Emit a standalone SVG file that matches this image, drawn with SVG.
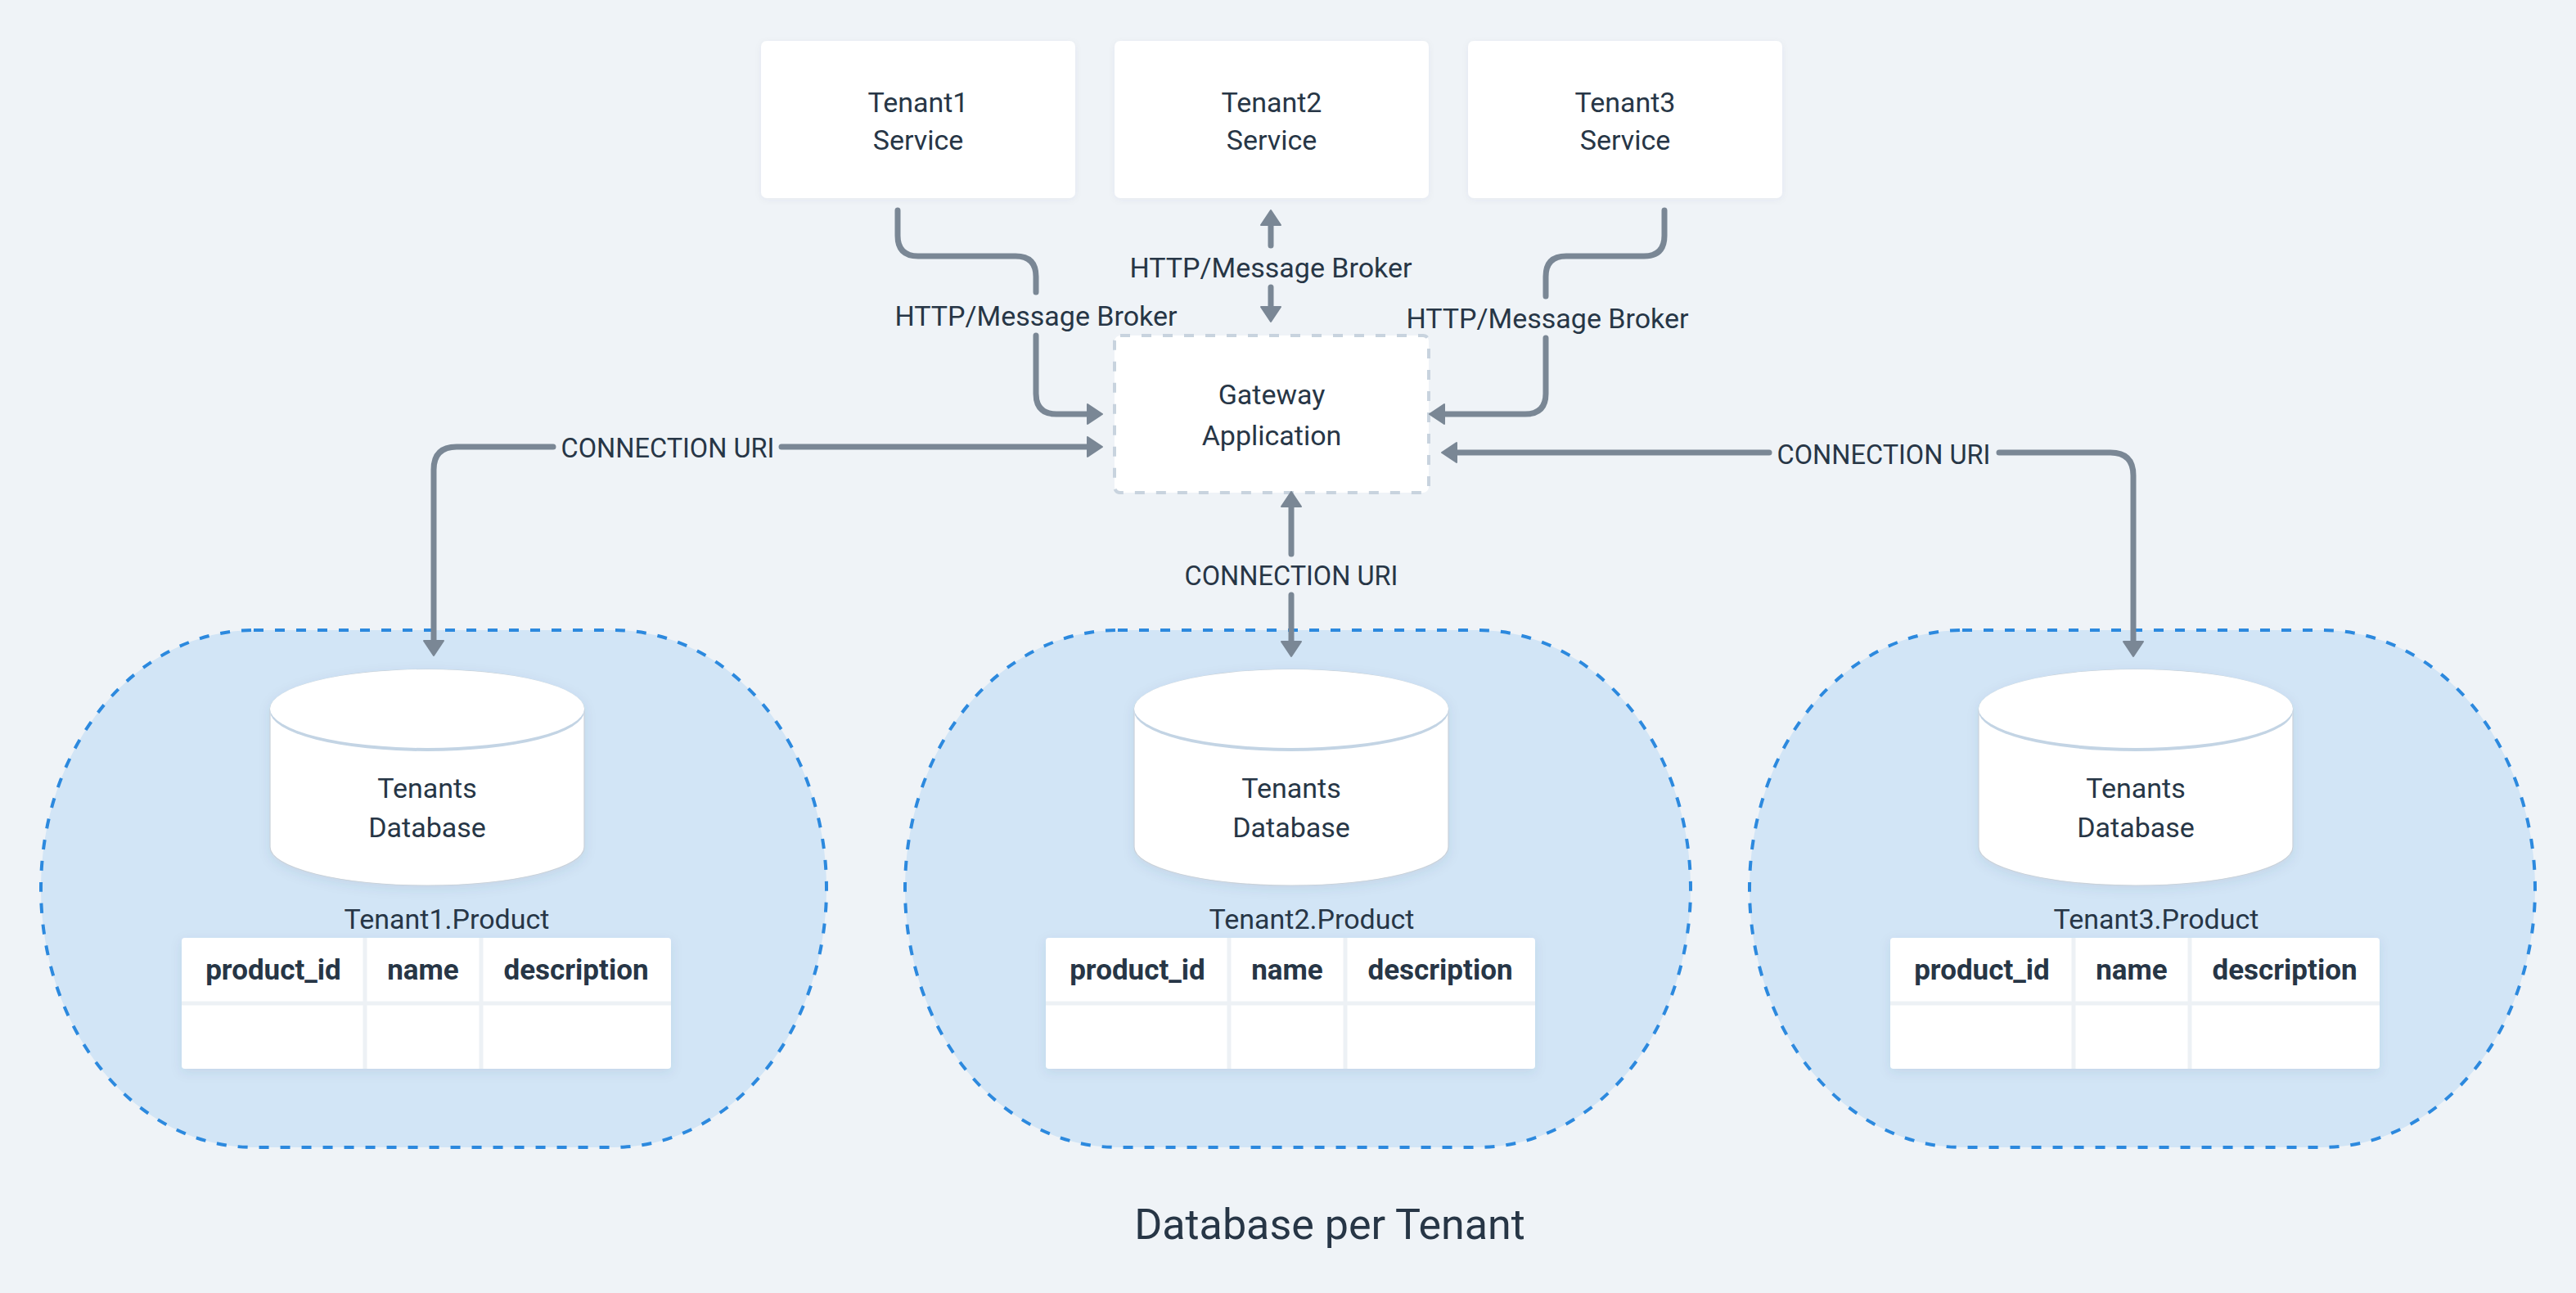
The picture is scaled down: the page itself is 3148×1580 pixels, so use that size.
<svg xmlns="http://www.w3.org/2000/svg" width="3148" height="1580" viewBox="0 0 3148 1580">
<style>
  .t { font-family: Roboto, "Liberation Sans", sans-serif; fill: #273646; font-size: 34px; text-anchor: middle; }
  .cu { font-size: 32.5px; }
  .th { font-family: Roboto, "Liberation Sans", sans-serif; fill: #273646; font-size: 35px; font-weight: 700; text-anchor: middle; }
  .title { font-family: Roboto, "Liberation Sans", sans-serif; fill: #273646; font-size: 52px; text-anchor: middle; }
  .box { fill: #ffffff; }
  .gw { fill: #ffffff; stroke: #c8d3de; stroke-width: 4; stroke-dasharray: 12 14; }
  .blob { fill: #d2e5f6; stroke: #2c89de; stroke-width: 4; stroke-dasharray: 12 14; }
  .conn { fill: none; stroke: #7a8795; stroke-width: 7; stroke-linecap: round; stroke-linejoin: round; }
  .sep { stroke: #edf1f5; stroke-width: 5; }
  .cylbody { fill: #ffffff; stroke: #c9d1d9; stroke-width: 1.2; }
</style>
<defs>
  <filter id="sh" x="-20%" y="-20%" width="140%" height="150%">
    <feDropShadow dx="0" dy="4" stdDeviation="7" flood-color="#3a5570" flood-opacity="0.10"/>
  </filter>
  <filter id="shl" x="-10%" y="-10%" width="120%" height="130%">
    <feDropShadow dx="0" dy="2" stdDeviation="4" flood-color="#3a5570" flood-opacity="0.05"/>
  </filter>
  <marker id="ah" viewBox="-2 -15 23 30" refX="8" refY="0" markerWidth="23" markerHeight="30" markerUnits="userSpaceOnUse" orient="auto">
    <path d="M0,-12 L18,0 L0,12 Z" fill="#7a8795" stroke="#7a8795" stroke-width="2" stroke-linejoin="round"/>
  </marker>
</defs>

<rect x="0" y="0" width="3148" height="1580" fill="#eff3f7"/>

<g id="tenant1-service">
  <rect class="box" x="930" y="50" width="384" height="192" rx="7" filter="url(#shl)"/>
  <text class="t" x="1122" y="137">Tenant1</text>
  <text class="t" x="1122" y="183">Service</text>
</g>
<g id="tenant2-service">
  <rect class="box" x="1362" y="50" width="384" height="192" rx="7" filter="url(#shl)"/>
  <text class="t" x="1554" y="137">Tenant2</text>
  <text class="t" x="1554" y="183">Service</text>
</g>
<g id="tenant3-service">
  <rect class="box" x="1794" y="50" width="384" height="192" rx="7" filter="url(#shl)"/>
  <text class="t" x="1986" y="137">Tenant3</text>
  <text class="t" x="1986" y="183">Service</text>
</g>

<g id="gateway">
  <rect class="gw" x="1362" y="410" width="384" height="192" rx="7"/>
  <text class="t" x="1554" y="494">Gateway</text>
  <text class="t" x="1554" y="544">Application</text>
</g>

<g id="db1">
  <rect class="blob" x="50" y="770" width="960" height="632" rx="260" ry="316"/>
  <g filter="url(#sh)">
    <path class="cylbody" d="M330,867 A192,49 0 0 1 714,867 V1035 A192,47 0 0 1 330,1035 Z"/>
  </g>
  <ellipse cx="522" cy="869" rx="192" ry="49" fill="#c3d4e4"/>
  <ellipse cx="522" cy="866" rx="192" ry="48" fill="#ffffff"/>
  <text class="t" x="522" y="975">Tenants</text>
  <text class="t" x="522" y="1023">Database</text>
  <text class="t" x="546" y="1135">Tenant1.Product</text>
  <rect class="box" x="222" y="1146" width="598" height="160" rx="4" filter="url(#sh)"/>
  <line class="sep" x1="222" y1="1226" x2="820" y2="1226"/>
  <line class="sep" x1="446" y1="1146" x2="446" y2="1306"/>
  <line class="sep" x1="588" y1="1146" x2="588" y2="1306"/>
  <text class="th" x="334" y="1197">product_id</text>
  <text class="th" x="517" y="1197">name</text>
  <text class="th" x="704" y="1197">description</text>
</g>

<g id="db2" transform="translate(1056,0)">
  <rect class="blob" x="50" y="770" width="960" height="632" rx="260" ry="316"/>
  <g filter="url(#sh)">
    <path class="cylbody" d="M330,867 A192,49 0 0 1 714,867 V1035 A192,47 0 0 1 330,1035 Z"/>
  </g>
  <ellipse cx="522" cy="869" rx="192" ry="49" fill="#c3d4e4"/>
  <ellipse cx="522" cy="866" rx="192" ry="48" fill="#ffffff"/>
  <text class="t" x="522" y="975">Tenants</text>
  <text class="t" x="522" y="1023">Database</text>
  <text class="t" x="547" y="1135">Tenant2.Product</text>
  <rect class="box" x="222" y="1146" width="598" height="160" rx="4" filter="url(#sh)"/>
  <line class="sep" x1="222" y1="1226" x2="820" y2="1226"/>
  <line class="sep" x1="446" y1="1146" x2="446" y2="1306"/>
  <line class="sep" x1="588" y1="1146" x2="588" y2="1306"/>
  <text class="th" x="334" y="1197">product_id</text>
  <text class="th" x="517" y="1197">name</text>
  <text class="th" x="704" y="1197">description</text>
</g>

<g id="db3" transform="translate(2088,0)">
  <rect class="blob" x="50" y="770" width="960" height="632" rx="260" ry="316"/>
  <g filter="url(#sh)">
    <path class="cylbody" d="M330,867 A192,49 0 0 1 714,867 V1035 A192,47 0 0 1 330,1035 Z"/>
  </g>
  <ellipse cx="522" cy="869" rx="192" ry="49" fill="#c3d4e4"/>
  <ellipse cx="522" cy="866" rx="192" ry="48" fill="#ffffff"/>
  <text class="t" x="522" y="975">Tenants</text>
  <text class="t" x="522" y="1023">Database</text>
  <text class="t" x="547" y="1135">Tenant3.Product</text>
  <rect class="box" x="222" y="1146" width="598" height="160" rx="4" filter="url(#sh)"/>
  <line class="sep" x1="222" y1="1226" x2="820" y2="1226"/>
  <line class="sep" x1="446" y1="1146" x2="446" y2="1306"/>
  <line class="sep" x1="588" y1="1146" x2="588" y2="1306"/>
  <text class="th" x="334" y="1197">product_id</text>
  <text class="th" x="517" y="1197">name</text>
  <text class="th" x="704" y="1197">description</text>
</g>

<g id="connectors">
  <!-- Tenant1 -> Gateway -->
  <path class="conn" d="M1097,257 V288 Q1097,313 1122,313 H1241 Q1266,313 1266,338 V357"/>
  <path class="conn" d="M1266,410 V481 Q1266,506 1291,506 H1337" marker-end="url(#ah)"/>
  <text class="t" x="1266" y="398">HTTP/Message Broker</text>
  <!-- Tenant2 <-> Gateway -->
  <path class="conn" d="M1553,300 V267" marker-end="url(#ah)"/>
  <path class="conn" d="M1553,351 V383" marker-end="url(#ah)"/>
  <text class="t" x="1553" y="339">HTTP/Message Broker</text>
  <!-- Tenant3 -> Gateway -->
  <path class="conn" d="M2034,257 V288 Q2034,313 2009,313 H1914 Q1889,313 1889,338 V362"/>
  <path class="conn" d="M1889,413 V481 Q1889,506 1864,506 H1757" marker-end="url(#ah)"/>
  <text class="t" x="1891" y="401">HTTP/Message Broker</text>
  <!-- DB1 <-> Gateway -->
  <path class="conn" d="M955,546 H1337" marker-end="url(#ah)"/>
  <path class="conn" d="M676,546 H558 Q530,546 530,574 V791" marker-end="url(#ah)"/>
  <text class="t cu" x="816" y="559">CONNECTION URI</text>
  <!-- DB2 <-> Gateway -->
  <path class="conn" d="M1578,677 V611" marker-end="url(#ah)"/>
  <path class="conn" d="M1578,727 V792" marker-end="url(#ah)"/>
  <text class="t cu" x="1578" y="715">CONNECTION URI</text>
  <!-- DB3 <-> Gateway -->
  <path class="conn" d="M2162,553 H1772" marker-end="url(#ah)"/>
  <path class="conn" d="M2443,553 H2579 Q2607,553 2607,581 V792" marker-end="url(#ah)"/>
  <text class="t cu" x="2302" y="567">CONNECTION URI</text>
</g>

<text class="title" x="1625" y="1514">Database per Tenant</text>
</svg>
